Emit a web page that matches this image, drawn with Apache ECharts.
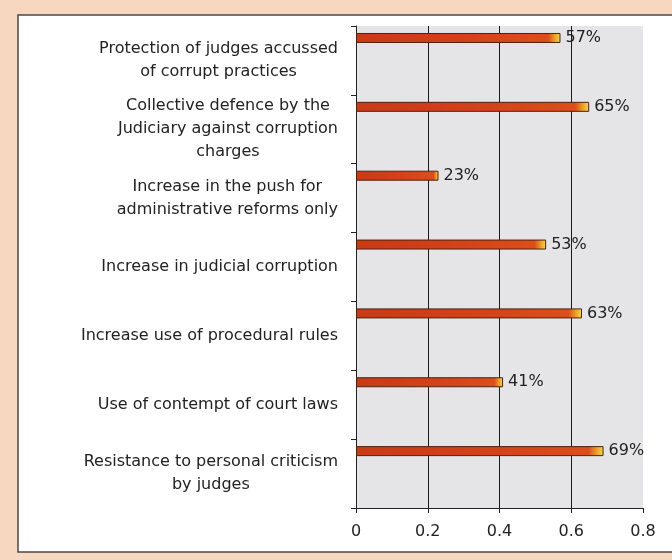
<!DOCTYPE html>
<html>
<head>
<meta charset="utf-8">
<script src="https://cdn.jsdelivr.net/npm/echarts@6/dist/echarts.min.js"></script>
<style>
html,body{margin:0;padding:0;background:#f7d7c0;}
#c{width:672px;height:560px;}
</style>
</head>
<body>
<div id="c"></div>
<script>
const categories = [
  'Protection of judges accussed\nof corrupt practices',
  'Collective defence by the\nJudiciary against corruption\ncharges',
  'Increase in the push for\nadministrative reforms only',
  'Increase in judicial corruption',
  'Increase use of procedural rules',
  'Use of contempt of court laws',
  'Resistance to personal criticism\nby judges'
];
const values = [0.57, 0.65, 0.23, 0.53, 0.63, 0.41, 0.69];
const spacer = [null, null, null, null, null, null, null];
const xTicks = [0, 0.2, 0.4, 0.6, 0.8];

const FONT = 'DejaVu Sans';
const FS = 16;
const chart = echarts.init(document.getElementById('c'), null, {renderer: 'canvas'});
chart.setOption({
  backgroundColor: '#f7d7c0',
  animation: false,
  graphic: [{
    type: 'rect', z: -10, silent: true,
    shape: {x: 18, y: 15, width: 700, height: 537},
    style: {fill: '#ffffff', stroke: '#4a4a44', lineWidth: 1.5}
  }],
  grid: {left: 356, right: 29, top: 26, bottom: 52, show: true, backgroundColor: '#e5e5e8', borderWidth: 0},
  xAxis: {
    type: 'value', min: xTicks[0], max: xTicks[xTicks.length - 1], interval: 0.2,
    axisLine: {show: true, lineStyle: {color: '#222', width: 1}},
    axisTick: {show: true, length: 5, lineStyle: {color: '#222'}},
    axisLabel: {margin: 16, fontFamily: FONT, fontSize: FS, color: '#222',
      formatter: v => (v === 0 ? '0' : v.toFixed(1))},
    splitLine: {show: true, showMinLine: false, showMaxLine: false, lineStyle: {color: '#1a1a1a', width: 1}}
  },
  yAxis: {
    type: 'category', inverse: true, data: categories,
    axisLine: {show: true, lineStyle: {color: '#222', width: 1}},
    axisTick: {show: true, length: 5, lineStyle: {color: '#222'}},
    axisLabel: {
      margin: 18, fontFamily: FONT, fontSize: FS, color: '#222', lineHeight: 23,
      formatter: v => v.split('\n').map(l => '{c|' + l + '}').join('\n'),
      rich: {c: {align: 'center', fontFamily: FONT, fontSize: FS, color: '#222', lineHeight: 23}}
    },
    splitLine: {show: false}
  },
  series: [
    {
      type: 'bar', data: values, barWidth: 10, barGap: '349%',
      itemStyle: {
        borderColor: '#4a2210', borderWidth: 1,
        color: new echarts.graphic.LinearGradient(0, 0, 1, 0, [
          {offset: 0, color: '#c93a16'},
          {offset: 0.5, color: '#d4401a'},
          {offset: 0.94, color: '#dc4e1a'},
          {offset: 0.975, color: '#eea42a'},
          {offset: 1, color: '#f4dc4c'}
        ])
      },
      label: {show: true, position: 'right', distance: 5, fontFamily: FONT, fontSize: FS, color: '#222',
        formatter: p => Math.round(p.value * 100) + '%'}
    },
    {type: 'bar', data: spacer, barWidth: 10, itemStyle: {color: 'transparent'}}
  ]
});
</script>
</body>
</html>
